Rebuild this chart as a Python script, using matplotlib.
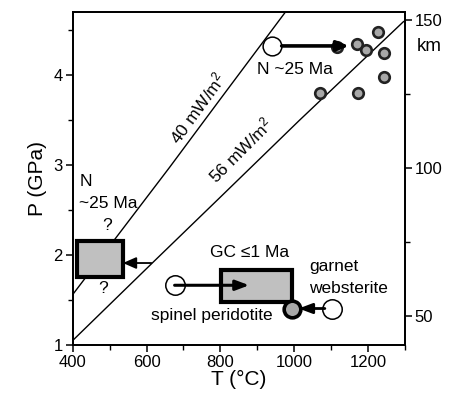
import matplotlib
matplotlib.use("Agg")
import matplotlib.pyplot as plt
import numpy as np

plt.rcParams['font.family'] = ['Liberation Sans', 'DejaVu Sans']
plt.rcParams['mathtext.fontset'] = 'custom'
plt.rcParams['mathtext.rm'] = 'Liberation Sans'
plt.rcParams['mathtext.it'] = 'Liberation Sans'

# ---------------- data ----------------
geo40_T = [400, 662, 798, 975]
geo40_P = [1.56, 2.97, 3.72, 4.69]
geo56_T = [400, 613, 797, 1013, 1296]
geo56_P = [1.05, 1.90, 2.63, 3.49, 4.59]

xeno_T = [1117, 1170, 1194, 1227, 1242, 1242, 1069, 1173]
xeno_P = [4.31, 4.34, 4.27, 4.48, 4.24, 3.97, 3.80, 3.80]

N_top_T, N_top_P = 941, 4.32
N_top_arrow_end_T = 1148

spinel_T, spinel_P = 676, 1.663
spinel_arrow_end_T = 878

garnet_T, garnet_P = 1103, 1.405
garnet_new_T, garnet_new_P = 995, 1.405
garnet_arrow_end_T = 1012

gc_box_T = [802, 995]
gc_box_P = [1.48, 1.83]

n_box_T = [412, 536]
n_box_P = [1.75, 2.15]
n_arrow_T = [613, 536]
n_arrow_P = 1.91

km_major = [50, 100, 150]
km_minor = [75, 125]


def km_to_P(km):
    return (np.asarray(km, dtype=float) - 9.9) / 30.4


# ---------------- figure ----------------
fig = plt.figure(figsize=(4.53, 3.98), dpi=100)
ax = fig.add_axes([0.1605, 0.1332, 0.7335, 0.8374])
ax.set_xlim(400, 1300)
ax.set_ylim(1, 4.7)

for s in ax.spines.values():
    s.set_linewidth(1.3)

ax.set_xticks([400, 600, 800, 1000, 1200])
ax.set_xticks([500, 700, 900, 1100, 1300], minor=True)
ax.set_yticks([1, 2, 3, 4])
ax.set_yticks([1.5, 2.5, 3.5, 4.5], minor=True)
ax.tick_params(which='major', direction='out', length=5, width=1.1, labelsize=12, pad=2)
ax.tick_params(which='minor', direction='out', length=3.5, width=1.0)

ax.set_xlabel('T (°C)', fontsize=15, labelpad=0)
ax.set_ylabel('P (GPa)', fontsize=15, labelpad=5)

# right km axis
ax2 = ax.twinx()
ax2.set_ylim(ax.get_ylim())
ax2.set_yticks(km_to_P(km_major))
ax2.set_yticklabels([str(k) for k in km_major])
ax2.set_yticks(km_to_P(km_minor), minor=True)
ax2.tick_params(which='major', direction='out', length=5, width=1.1, labelsize=12, pad=2)
ax2.tick_params(which='minor', direction='out', length=3.5, width=1.0)
for s in ax2.spines.values():
    s.set_linewidth(1.3)
fig.text(0.948, 0.882, 'km', fontsize=13.5, ha='center', va='center')

# geotherms
ax.plot(geo40_T, geo40_P, color='k', lw=1.0, zorder=2)
ax.plot(geo56_T, geo56_P, color='k', lw=1.0, zorder=2)
ax.text(737, 3.63, '40 mW/m$^2$', rotation=54, fontsize=12.5, ha='center', va='center',
        rotation_mode='anchor')
ax.text(854, 3.16, '56 mW/m$^2$', rotation=45, fontsize=12.5, ha='center', va='center',
        rotation_mode='anchor')

# xenolith points
ax.plot(xeno_T, xeno_P, 'o', ms=7.6, mfc='#a8a8a8', mec='#222222', mew=1.9, zorder=3)

# N ~25 Ma (top)
ax.plot([N_top_T], [N_top_P], 'o', ms=13.5, mfc='white', mec='k', mew=1.1, zorder=4)
ax.annotate('', xy=(N_top_arrow_end_T, N_top_P), xytext=(N_top_T + 25, N_top_P),
            arrowprops=dict(arrowstyle='-|>,head_length=0.7,head_width=0.3', lw=2.6,
                            color='k', shrinkA=0, shrinkB=0), zorder=5)
ax.text(898, 4.06, 'N ~25 Ma', fontsize=12.5, ha='left', va='center')

# left box (N ~25 Ma)
ax.add_patch(plt.Rectangle((n_box_T[0], n_box_P[0]), n_box_T[1] - n_box_T[0],
                           n_box_P[1] - n_box_P[0], facecolor='#c0c0c0',
                           edgecolor='k', lw=3.0, zorder=4))
ax.annotate('', xy=(n_arrow_T[1], n_arrow_P), xytext=(n_arrow_T[0], n_arrow_P),
            arrowprops=dict(arrowstyle='-|>,head_length=0.8,head_width=0.35', lw=1.3,
                            color='k', shrinkA=0, shrinkB=0), zorder=5)
ax.text(420, 2.82, 'N', fontsize=12.5, ha='left', va='center')
ax.text(417, 2.57, '~25 Ma', fontsize=12.5, ha='left', va='center')
ax.text(494, 2.33, '?', fontsize=12.5, ha='center', va='center')
ax.text(482, 1.63, '?', fontsize=12.5, ha='center', va='center')

# GC box
ax.add_patch(plt.Rectangle((gc_box_T[0], gc_box_P[0]), gc_box_T[1] - gc_box_T[0],
                           gc_box_P[1] - gc_box_P[0], facecolor='#c0c0c0',
                           edgecolor='k', lw=3.0, zorder=3))
ax.text(880, 2.03, 'GC ≤1 Ma', fontsize=12.5, ha='center', va='center')

# spinel peridotite
ax.plot([spinel_T], [spinel_P], 'o', ms=14, mfc='white', mec='k', mew=1.1, zorder=4)
ax.annotate('', xy=(spinel_arrow_end_T, spinel_P), xytext=(spinel_T, spinel_P),
            arrowprops=dict(arrowstyle='-|>,head_length=0.8,head_width=0.3', lw=2.2,
                            color='k', shrinkA=0, shrinkB=0), zorder=5)
ax.text(778, 1.33, 'spinel peridotite', fontsize=12.5, ha='center', va='center')

# garnet websterite
ax.plot([garnet_T], [garnet_P], 'o', ms=14, mfc='white', mec='k', mew=1.1, zorder=4)
ax.plot([garnet_new_T], [garnet_new_P], 'o', ms=12, mfc='#a8a8a8', mec='k', mew=2.6, zorder=4)
ax.annotate('', xy=(garnet_arrow_end_T, garnet_P), xytext=(garnet_T - 20, garnet_P),
            arrowprops=dict(arrowstyle='-|>,head_length=0.8,head_width=0.3', lw=2.0,
                            color='k', shrinkA=0, shrinkB=0), zorder=5)
ax.text(1040, 1.87, 'garnet', fontsize=12.5, ha='left', va='center')
ax.text(1040, 1.63, 'websterite', fontsize=12.5, ha='left', va='center')

fig.savefig('out.png', dpi=100)
